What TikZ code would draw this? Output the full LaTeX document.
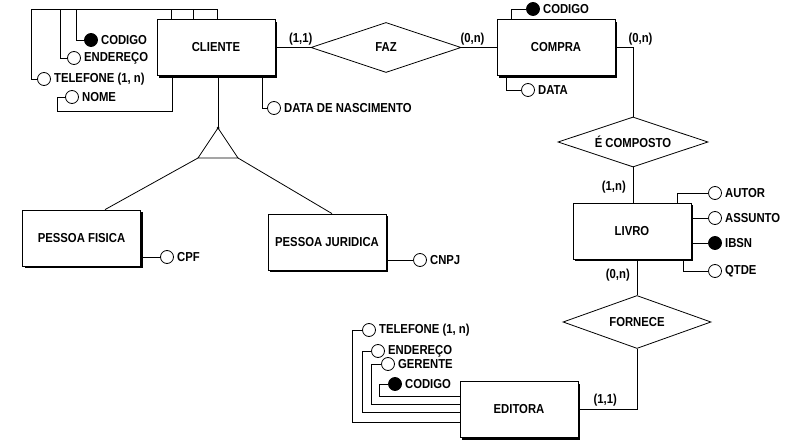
\documentclass[tikz,border=0pt]{standalone}
\usepackage{fontspec}
\setmainfont[FakeStretch=0.87]{Liberation Sans}
\usetikzlibrary{calc, positioning, shapes.geometric, shadows}
\tikzset{
  txt/.style={font=\bfseries\fontsize{13}{15}\selectfont},
  lnk/.style={line width=0.8pt},
  ent/.style={txt, draw, fill=white, line width=0.8pt, minimum width=118pt, minimum height=56pt,
    drop shadow={shadow xshift=2.2pt, shadow yshift=-2.2pt, fill=black, opacity=1}},
  rel/.style={txt, diamond, draw, fill=white, line width=0.8pt, aspect=3, inner sep=0pt,
    minimum width=150pt, minimum height=50pt},
  attr/.style={circle, draw, fill=white, line width=0.8pt, minimum size=13pt, inner sep=0pt,
    label={[txt, label distance=1.5pt, inner sep=1.5pt]right:#1}},
  keyattr/.style={attr=#1, fill=black},
  card/.style={txt, inner sep=1pt}
}

\begin{document}
\begin{tikzpicture}[x=1pt, y=-1pt]
  \useasboundingbox[fill=white] (0,0) rectangle (791,443);

  \node[ent] (cliente) at (216,47.5) {CLIENTE};
  \node[ent] (compra) at (556,47.5) {COMPRA};
  \node[ent] (livro) at (632,231) {LIVRO};
  \node[ent] (editora) at (519,409.5) {EDITORA};
  \node[ent] (pfisica) at (81.5,238) {PESSOA FISICA};
  \node[ent] (pjuridica) at (327,242) {PESSOA JURIDICA};

  \node[rel] (faz) at (386,47.5) {FAZ};
  \node[rel] (composto) at (633,142) {É COMPOSTO};
  \node[rel, minimum width=148pt, minimum height=53pt] (fornece) at (637,322) {FORNECE};

  \node[keyattr=CODIGO] (cliCod) at (91,40) {};
  \node[attr=ENDEREÇO] (cliEnd) at (74,58) {};
  \node[attr={TELEFONE (1, n)}] (cliTel) at (44,79) {};
  \node[attr=NOME] (cliNome) at (72,97) {};
  \node[attr=DATA DE NASCIMENTO] (cliNasc) at (274,108) {};
  \node[keyattr=CODIGO] (cmpCod) at (533,9) {};
  \node[attr=DATA] (cmpData) at (528,90) {};
  \node[attr=AUTOR] (livAutor) at (715,193) {};
  \node[attr=ASSUNTO] (livAssunto) at (715,218) {};
  \node[keyattr=IBSN] (livIbsn) at (715,243) {};
  \node[attr=QTDE] (livQtde) at (715,271) {};
  \node[attr=CPF] (pfCpf) at (167,257) {};
  \node[attr=CNPJ] (pjCnpj) at (420,260) {};
  \node[attr={TELEFONE (1, n)}] (edTel) at (369,330) {};
  \node[attr=ENDEREÇO] (edEnd) at (378,351) {};
  \node[attr=GERENTE] (edGer) at (388,364) {};
  \node[keyattr=CODIGO] (edCod) at (395,384) {};

  \draw[lnk] (cliente.east) -- (faz.west);
  \draw[lnk] (faz.east) -- (compra.west);
  \draw[lnk] (compra.east) -| (composto.north);
  \draw[lnk] (composto.south) -- (composto.south |- livro.north);
  \draw[lnk] (livro.south -| fornece.north) -- (fornece.north);
  \draw[lnk] (fornece.south) |- (editora.east);

  \draw[lnk] (cliCod.west) -| (76,9) -| ([xshift=-45pt]cliente.north);
  \draw[lnk] (cliEnd.west) -| (60,9) -| ([xshift=-23pt]cliente.north);
  \draw[lnk] (cliTel.west) -| (31,9) -| ([xshift=1pt]cliente.north);
  \draw[lnk] (cliNome.west) -| (57,111) -| ([xshift=-44pt]cliente.south);
  \draw[lnk] ([xshift=46pt]cliente.south) |- (cliNasc.west);

  \draw[lnk] ([xshift=-45pt]compra.north) |- (cmpCod.west);
  \draw[lnk] ([xshift=-50pt]compra.south) |- (cmpData.west);

  \draw[lnk] ([xshift=45pt]livro.north) |- (livAutor.west);
  \draw[lnk] (livAssunto.west) -- (livAssunto.west -| livro.east);
  \draw[lnk] (livIbsn.west) -- (livIbsn.west -| livro.east);
  \draw[lnk] ([xshift=51pt]livro.south) |- (livQtde.west);

  \draw[lnk] (pfCpf.west) -- (pfCpf.west -| pfisica.east);
  \draw[lnk] (pjCnpj.west) -- (pjCnpj.west -| pjuridica.east);

  \draw[lnk] (edCod.west) -| ([xshift=-80pt, yshift=13.5pt]editora.west) -- ([yshift=13.5pt]editora.west);
  \draw[lnk] (edGer.west) -| ([xshift=-88pt, yshift=5.5pt]editora.west) -- ([yshift=5.5pt]editora.west);
  \draw[lnk] (edEnd.west) -| ([xshift=-97pt, yshift=-2.5pt]editora.west) -- ([yshift=-2.5pt]editora.west);
  \draw[lnk] (edTel.west) -| ([xshift=-107pt, yshift=-12.5pt]editora.west) -- ([yshift=-12.5pt]editora.west);

  \coordinate (isaTop) at (218,128);
  \coordinate (isaLeft) at (198,158);
  \coordinate (isaRight) at (238,158);
  \draw[lnk] (isaTop) -- (isaLeft) -- (isaRight) -- cycle;
  \draw[lnk] (cliente.south -| isaTop) -- (isaTop);
  \fill (isaTop) circle (1.5pt);
  \draw[lnk] (isaLeft) -- ([xshift=23.5pt]pfisica.north);
  \draw[lnk] (isaRight) -- ([xshift=5pt]pjuridica.north);

  \node[card, anchor=south east] (cardCliFaz) at ([xshift=3pt, yshift=1.5pt]faz.west) {(1,1)};
  \node[card, anchor=south west] (cardFazCmp) at ([xshift=-2pt, yshift=1.5pt]faz.east) {(0,n)};
  \node[card, anchor=south west] (cardCmpComp) at ([xshift=12pt, yshift=1.5pt]compra.east) {(0,n)};
  \node[card, anchor=south east] (cardCompLiv) at ([xshift=-5pt, yshift=8pt]livro.north) {(1,n)};
  \node[card, anchor=north east] (cardLivForn) at ([xshift=-1pt, yshift=-8pt]livro.south) {(0,n)};
  \node[card, anchor=south west] (cardFornEd) at ([xshift=14pt, yshift=2pt]editora.east) {(1,1)};
\end{tikzpicture}
\end{document}
